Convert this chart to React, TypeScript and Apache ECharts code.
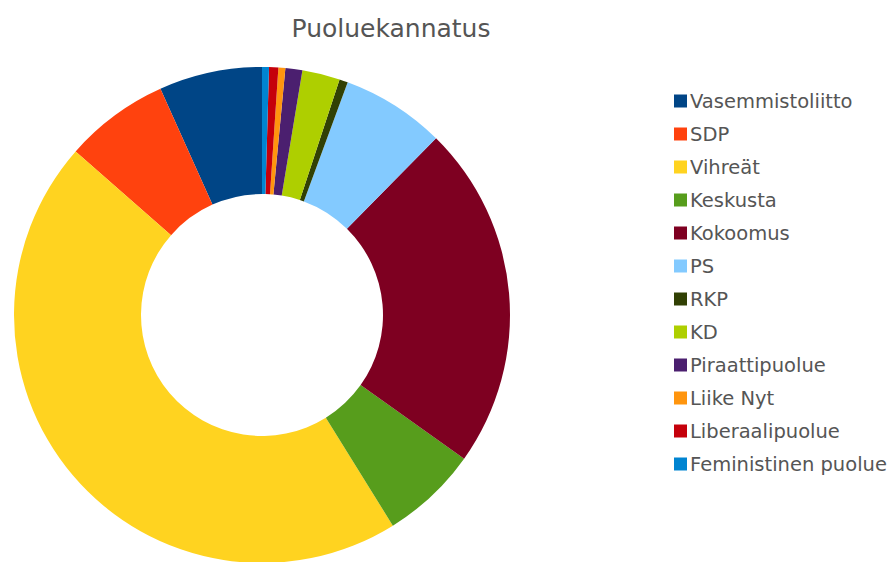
import React, { useEffect, useRef } from "react";
import * as echarts from "echarts";

const parties = [
  "Vasemmistoliitto",
  "SDP",
  "Vihreät",
  "Keskusta",
  "Kokoomus",
  "PS",
  "RKP",
  "KD",
  "Piraattipuolue",
  "Liike Nyt",
  "Liberaalipuolue",
  "Feministinen puolue",
];
const support = [6.7, 6.8, 45.2, 6.3, 22.4, 6.75, 0.55, 2.45, 1.1, 0.45, 0.6, 0.45];
const colors = [
  "#004586",
  "#ff420e",
  "#ffd320",
  "#579d1c",
  "#7e0021",
  "#83caff",
  "#314004",
  "#aecf00",
  "#4b1f6f",
  "#ff950e",
  "#c5000b",
  "#0084d1",
];
const title = "Puoluekannatus";

export default function App() {
  const ref = useRef<HTMLDivElement>(null);
  useEffect(() => {
    if (!ref.current) return;
    const chart = echarts.init(ref.current, undefined, { renderer: "svg" });
    chart.setOption({
      animation: false,
      backgroundColor: "#ffffff",
      color: colors,
      title: {
        text: title,
        left: 386,
        top: 11,
        textAlign: "center",
        textStyle: {
          fontFamily: "DejaVu Sans",
          fontSize: 25,
          fontWeight: "normal",
          color: "#555555",
        },
      },
      legend: {
        orient: "vertical",
        left: 669,
        top: 86,
        itemWidth: 13,
        itemHeight: 13,
        itemGap: 13,
        icon: "rect",
        selectedMode: false,
        textStyle: {
          fontFamily: "DejaVu Sans",
          fontSize: 19.5,
          lineHeight: 20,
          color: "#555555",
          padding: [0, 0, 0, -2],
        },
        data: parties,
      },
      series: [
        {
          type: "pie",
          center: [262, 315],
          radius: [121, 248],
          startAngle: 90,
          clockwise: false,
          label: { show: false },
          labelLine: { show: false },
          emphasis: { disabled: true },
          itemStyle: { borderWidth: 0 },
          data: parties.map((name, i) => ({ name, value: support[i] })),
        },
      ],
    });
    return () => chart.dispose();
  }, []);
  return (
    <div
      ref={ref}
      style={{ position: "fixed", left: 0, top: 0, width: 892, height: 562 }}
    />
  );
}
